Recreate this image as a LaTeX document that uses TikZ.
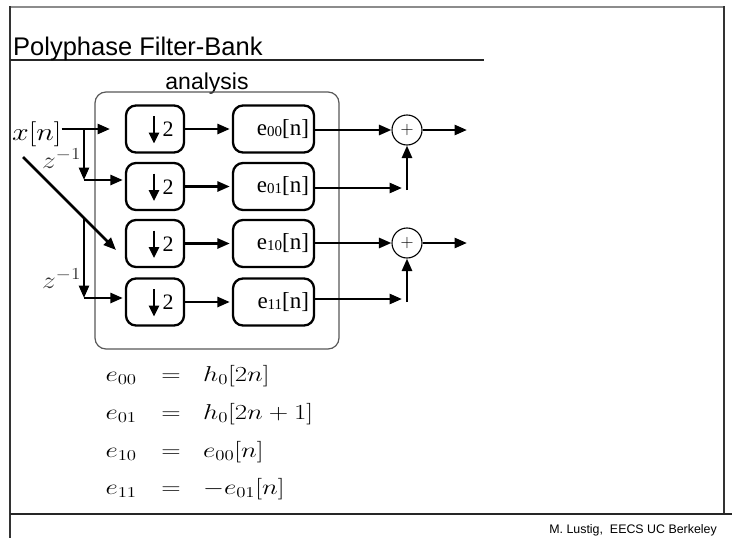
\RequirePackage{fix-cm}
\documentclass[tikz,border=0pt]{standalone}
\usepackage{graphicx}
\usepackage{fontspec}
\newfontfamily\sansf{Liberation Sans}
\newfontfamily\seriff{Liberation Serif}
\usetikzlibrary{arrows.meta,calc}

\newcommand{\fs}[1]{\fontsize{#1}{#1}\selectfont}
\newcommand{\wide}[1]{\scalebox{1.25}[1]{$#1$}}

\begin{document}
\begin{tikzpicture}[x=1pt,y=-1pt,
  sig/.style={line width=2.7pt,-{Triangle[length=12.5pt,width=10pt]}},
  blk/.style={draw,line width=2.3pt,rounded corners=10pt,minimum height=47pt,inner sep=0pt},
  dsblk/.style={blk,minimum width=58pt},
  pblk/.style={blk,minimum width=81pt,text width=71pt,inner xsep=5pt,align=right,font=\seriff\fs{23}},
  sumn/.style={draw,circle,line width=1.1pt,minimum size=30pt,inner sep=0pt,font=\fs{18}},
  frameline/.style={line width=1.4pt,black!80},
  eqn/.style={font=\fs{21.5},inner sep=0pt},
  lbl/.style={font=\fs{24},inner sep=0pt,text=black!80},
]
\useasboundingbox (0,0) rectangle (732,538);
\fill[white] (0,0) rectangle (732,538);

% slide frame
\draw[line width=2.4pt,black!45] (9,7) -- (724,7);
\draw[frameline] (10,6) -- (10,538);
\draw[frameline] (724,6) -- (724,514);
\draw[line width=2pt,black!85] (10,514) -- (732,514);
\draw[line width=2pt,black!85] (10,60) -- (484,60);

% titles
\node[anchor=base west,inner sep=0pt,font=\sansf\fs{25.5}] (title) at (13,55) {Polyphase Filter-Bank};
\node[anchor=base,inner sep=0pt,font=\sansf\fs{23}] (ana) at (207,89) {analysis};
\node[anchor=base east,inner sep=0pt,font=\sansf\fs{12.4}] (foot) at (717,533) {M. Lustig,\ \ EECS UC Berkeley};

% analysis group
\node[draw=black!65,line width=1.2pt,rounded corners=11pt,minimum width=244pt,minimum height=257pt,inner sep=0pt] (grp) at (217,220.5) {};

% downsamplers and polyphase blocks
\node[dsblk] (d1) at (155,129) {};
\node[dsblk] (d2) at (155,186.5) {};
\node[dsblk] (d3) at (155,243.5) {};
\node[dsblk] (d4) at (155,302) {};
\node[pblk] (e1) at (273.5,129) {e\raisebox{-1pt}{\fs{15}00}[n]};
\node[pblk] (e2) at (273.5,186.5) {e\raisebox{-1pt}{\fs{15}01}[n]};
\node[pblk] (e3) at (273.5,243.5) {e\raisebox{-1pt}{\fs{15}10}[n]};
\node[pblk] (e4) at (273.5,302) {e\raisebox{-1pt}{\fs{15}11}[n]};

\foreach \i in {1,...,4}{
  \draw[line width=2.6pt,-{Triangle[length=11pt,width=10pt]}] ($(d\i.center)+(-1,-13)$) -- ($(d\i.center)+(-1,14.5)$);
  \node[font=\seriff\fs{22},inner sep=0pt] (two\i) at ($(d\i.center)+(13,0.5)$) {2};
  \draw[sig,shorten >=2pt] (d\i.east) -- (e\i.west);
}

% input and delay chain
\node[anchor=base west,inner sep=0pt,font=\fs{25}] (x) at (12,140) {\scalebox{1.2}[1]{$x[n]$}};
\coordinate (b1) at (84,129);
\coordinate (p1) at (110,129);
\coordinate (c1) at (84,180);
\coordinate (g0) at (23,157);
\coordinate (g1) at (116,250);
\coordinate (b2) at (84,218);
\coordinate (c2) at (84,298);
\draw[sig] (x.east |- b1) -- (p1);
\draw[sig] (b1) -- (c1);
\draw[sig,shorten >=2pt] (c1) -- (d2.west |- c1);
\draw[sig] (g0) -- (g1);
\draw[sig] (b2) -- (c2);
\draw[sig,shorten >=2pt] (c2) -- (d4.west |- c2);
\node[lbl,anchor=base west] (z1) at (42,168) {\scalebox{1.15}[1]{$z^{-1}$}};
\node[lbl,anchor=base west] (z2) at (42,288) {\scalebox{1.15}[1]{$z^{-1}$}};

% synthesis sums
\node[sumn] (s1) at (407,130) {$+$};
\node[sumn] (s2) at (407,243) {$+$};
\coordinate (o1) at (467,130);
\coordinate (o2) at (467,243);
\coordinate (j2) at (402,188);
\coordinate (j4) at (402,299);
\coordinate (v2) at (407,190);
\coordinate (v4) at (407,302);
\draw[sig] (e1.east |- s1) -- (s1.west);
\draw[sig] (s1.east) -- (o1);
\draw[sig] (e2.east |- j2) -- (j2);
\draw[sig] (v2) -- (s1.south);
\draw[sig] (e3.east |- s2) -- (s2.west);
\draw[sig] (s2.east) -- (o2);
\draw[sig] (e4.east |- j4) -- (j4);
\draw[sig] (v4) -- (s2.south);

% polyphase component definitions
\node[eqn,anchor=base east] (l1) at (137,381) {\wide{e_{00}}};
\node[eqn,anchor=base] (q1) at (171,381) {\wide{=}};
\node[eqn,anchor=base west] (r1) at (203,381) {\wide{h_0[2n]}};
\node[eqn,anchor=base east] (l2) at (137,419) {\wide{e_{01}}};
\node[eqn,anchor=base] (q2) at (171,419) {\wide{=}};
\node[eqn,anchor=base west] (r2) at (203,419) {\wide{h_0[2n+1]}};
\node[eqn,anchor=base east] (l3) at (137,457) {\wide{e_{10}}};
\node[eqn,anchor=base] (q3) at (171,457) {\wide{=}};
\node[eqn,anchor=base west] (r3) at (203,457) {\wide{e_{00}[n]}};
\node[eqn,anchor=base east] (l4) at (137,494) {\wide{e_{11}}};
\node[eqn,anchor=base] (q4) at (171,494) {\wide{=}};
\node[eqn,anchor=base west] (r4) at (203,494) {\wide{-e_{01}[n]}};
\end{tikzpicture}
\end{document}
